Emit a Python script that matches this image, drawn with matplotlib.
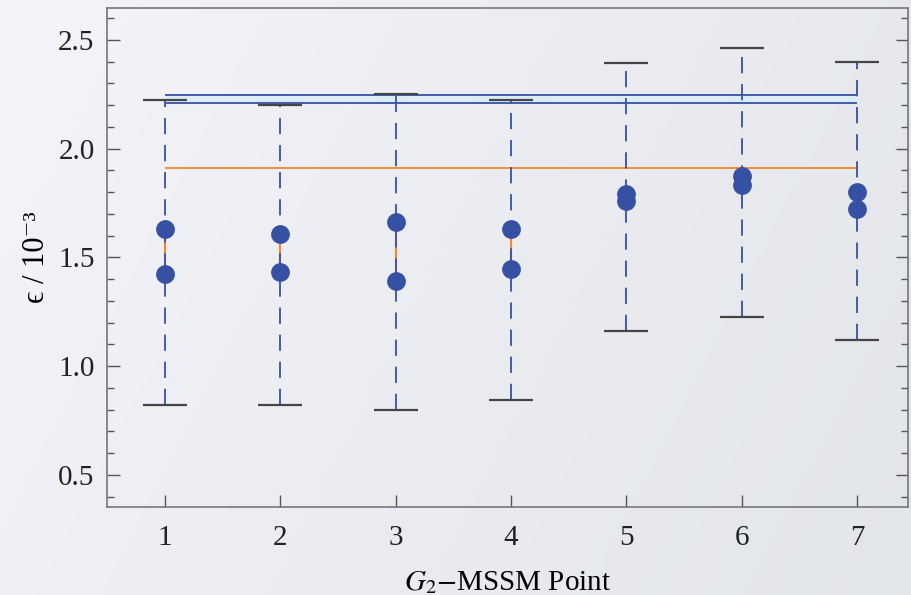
import matplotlib.pyplot as plt
import numpy as np

plt.rcParams['font.family'] = ['Liberation Serif', 'DejaVu Serif', 'DejaVu Sans']
plt.rcParams['mathtext.fontset'] = 'stix'

points = [1, 2, 3, 4, 5, 6, 7]
eps_upper = [1.629, 1.606, 1.661, 1.629, 1.794, 1.874, 1.802]
eps_lower = [1.422, 1.431, 1.394, 1.445, 1.762, 1.833, 1.724]
err_top = [2.226, 2.199, 2.254, 2.226, 2.392, 2.461, 2.397]
err_bottom = [0.820, 0.820, 0.797, 0.847, 1.160, 1.225, 1.120]
band_lo = 2.211
band_hi = 2.249
exp_value = 1.912

blue = '#3651a3'
orange = '#f5862a'

fig = plt.figure(figsize=(9.11, 5.95), dpi=100)

# background gradient
bg = fig.add_axes([0, 0, 1, 1], zorder=-10)
gx = np.linspace(0, 1, 200)
gy = np.linspace(0, 1, 130)
X, Y = np.meshgrid(gx, gy)
t = 0.75 * X + 0.25 * Y
c0 = np.array([244, 244, 249]) / 255
c1 = np.array([226, 229, 233]) / 255
img = c0[None, None, :] * (1 - t[..., None]) + c1[None, None, :] * t[..., None]
bg.imshow(img, aspect='auto', extent=[0, 1, 0, 1])
bg.axis('off')

ax = fig.add_axes([0.1175, 0.148, 0.879, 0.8385])
ax.patch.set_alpha(0)

# band between the blue lines
ax.fill_between([1, 7], band_lo, band_hi, color='#dcedf8', zorder=1)
ax.hlines([band_lo, band_hi], 1, 7, color=blue, lw=1.3, zorder=2)
ax.hlines(exp_value, 1, 7, color=orange, lw=1.3, zorder=2)

# orange segment between the two points
ax.vlines(points, eps_lower, eps_upper, color=orange, lw=1.5, zorder=2)

# dashed error bars
ax.vlines(points, err_bottom, err_top, color=blue, lw=1.3, linestyles=(0, (9, 6)), zorder=3)
ax.plot(points, err_top, ls='none', marker='_', ms=31, mew=1.6, color='#454545', zorder=3)
ax.plot(points, err_bottom, ls='none', marker='_', ms=31, mew=1.6, color='#454545', zorder=3)

ax.plot(points, eps_upper, ls='none', marker='o', ms=12.5, color=blue, zorder=4)
ax.plot(points, eps_lower, ls='none', marker='o', ms=12.5, color=blue, zorder=4)

ax.set_xlim(0.497, 7.44)
ax.set_ylim(0.353, 2.647)
ax.set_xticks(points)
ax.set_yticks([0.5, 1.0, 1.5, 2.0, 2.5])
ax.set_yticks(np.arange(0.4, 2.65, 0.1), minor=True)
ax.tick_params(axis='y', which='both', direction='in', right=True, labelsize=21, colors='#555555', labelcolor='#222222', pad=9)
ax.tick_params(axis='y', which='major', length=9, width=1)
ax.tick_params(axis='y', which='minor', length=5, width=1)
ax.tick_params(axis='x', direction='in', length=9, width=1, labelsize=21, colors='#555555', labelcolor='#222222', pad=13)
for s in ax.spines.values():
    s.set_color('#777777')
    s.set_linewidth(1.2)

ax.set_ylabel('\u03f5 / 10\u207b\u00b3', fontsize=22, labelpad=5)
ax.set_xlabel(r'$G_2$$-$MSSM Point', fontsize=21, labelpad=13)

fig.savefig('out.png', dpi=100)
